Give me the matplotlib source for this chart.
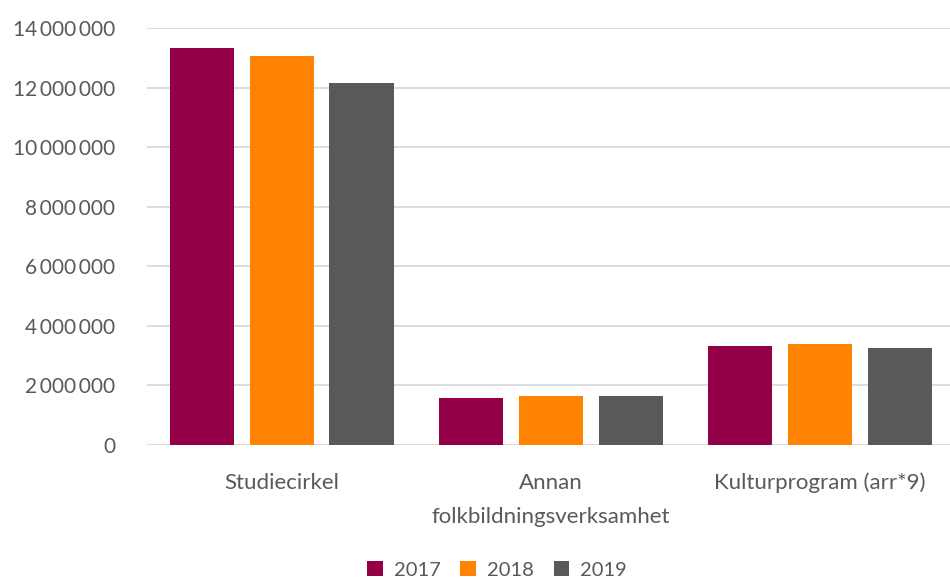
import matplotlib
matplotlib.use("Agg")
import matplotlib.pyplot as plt
import numpy as np

categories = ["Studiecirkel", "Annan\nfolkbildningsverksamhet", "Kulturprogram (arr*9)"]
years = ["2017", "2018", "2019"]
values_2017 = [13330000, 1580000, 3320000]
values_2018 = [13060000, 1650000, 3390000]
values_2019 = [12150000, 1650000, 3260000]
colors = ["#930048", "#FF8200", "#595959"]
yticks = [0, 2000000, 4000000, 6000000, 8000000, 10000000, 12000000, 14000000]

plt.rcParams['font.family'] = ['Lato', 'DejaVu Sans']
txt = "#595959"

fig = plt.figure(figsize=(9.5, 5.8), dpi=100)
ax = fig.add_axes([147/950, 1-445/580, (954.5-147)/950, (445-28)/580])

x = np.arange(len(categories))
w = 0.238
off = 0.297
for i, (vals, yr) in enumerate(zip([values_2017, values_2018, values_2019], years)):
    ax.bar(x + (i-1)*off, vals, width=w, color=colors[i], label=yr, zorder=3)

ax.set_xlim(-0.5, 2.5)
ax.set_ylim(0, 14000000)
ax.set_yticks(yticks)
ax.set_yticklabels([f"{v:,}".replace(",", "\u2009") for v in yticks], fontsize=15)
ax.set_xticks(x)
ax.set_xticklabels(categories, linespacing=1.92, fontsize=16)
ax.grid(axis='y', color='#d9d9d9', linewidth=1.3, zorder=0)
for s in ax.spines.values():
    s.set_visible(False)
ax.tick_params(axis='both', length=0, colors=txt)
ax.tick_params(axis='y', pad=23)
ax.tick_params(axis='x', pad=20)

fig.legend(loc='center', bbox_to_anchor=(497/950, 1-570/580), ncol=3, frameon=False,
           fontsize=14.5, handlelength=0.75, handleheight=0.75, handletextpad=0.55,
           columnspacing=1.0, labelcolor=txt)

fig.savefig("out.png", dpi=100)
